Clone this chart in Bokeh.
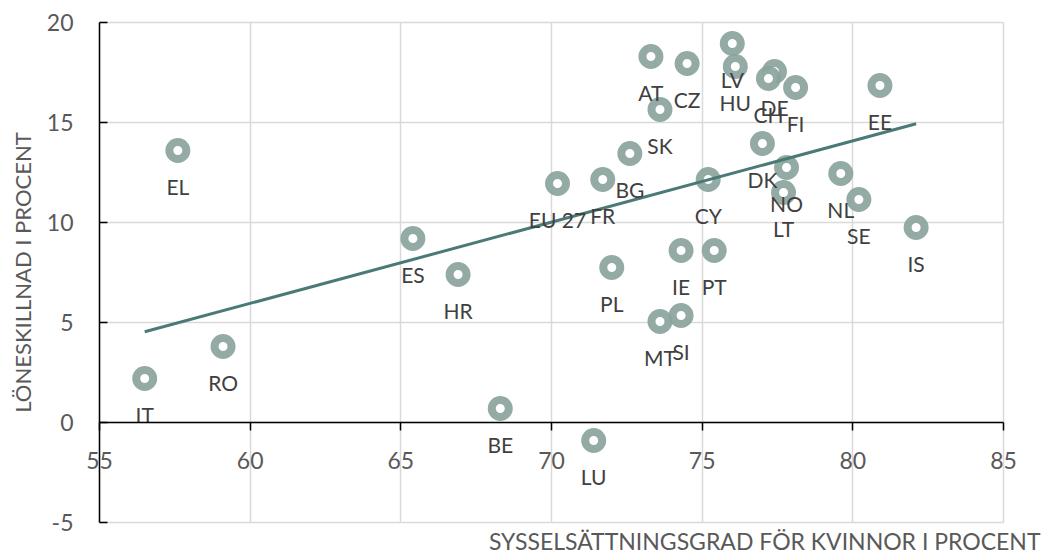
import numpy as np
from bokeh.plotting import figure
from bokeh.models import ColumnDataSource, FixedTicker, Label
from bokeh.core.properties import value
from bokeh.embed import file_html
from bokeh.resources import INLINE

countries = ["IT", "RO", "EL", "ES", "HR", "BE", "LU", "EU 27", "FR", "BG", "PL", "MT", "SI",
             "IE", "PT", "CY", "AT", "CZ", "SK", "LV", "HU", "DE", "CH", "FI", "DK", "NO",
             "LT", "NL", "SE", "EE", "IS"]
employment = [56.5, 59.1, 57.6, 65.4, 66.9, 68.3, 71.4, 70.2, 71.7, 72.6, 72.0, 73.6, 74.3,
              74.3, 75.4, 75.2, 73.3, 74.5, 73.6, 76.0, 76.1, 77.4, 77.2, 78.1, 77.0, 77.8,
              77.7, 79.6, 80.2, 80.9, 82.1]
paygap = [2.2, 3.8, 13.6, 9.2, 7.4, 0.7, -0.9, 11.95, 12.15, 13.45, 7.75, 5.05, 5.35,
          8.6, 8.6, 12.15, 18.3, 17.95, 15.65, 18.95, 17.8, 17.55, 17.2, 16.75, 13.95, 12.75,
          11.5, 12.45, 11.15, 16.85, 9.75]
x_ticks = [55, 60, 65, 70, 75, 80, 85]
y_ticks = [-5, 0, 5, 10, 15, 20]
y_tick_labels = ["-5", "0", "5", "10", "15", "20"]
x_title = "SYSSELSÄTTNINGSGRAD FÖR KVINNOR I PROCENT"
y_title = "LÖNESKILLNAD I PROCENT"

FONT = "Lato"
MARKER = "#88a29b"
TREND = "#4a7a78"
TICK_COLOR = "#595959"

# canvas layout (pixels): the plot frame fills the whole canvas, the axes are
# placed inside it so that no text is clipped
W, H = 1043, 554
PAD_L, PAD_R, PAD_T, PAD_B = 99, 40, 22, 32
xmin, xmax = x_ticks[0], x_ticks[-1]
ymin, ymax = y_ticks[0], y_ticks[-1]
ux = (xmax - xmin) / (W - PAD_L - PAD_R)
uy = (ymax - ymin) / (H - PAD_T - PAD_B)

src = ColumnDataSource(dict(x=employment, y=paygap, label=countries))

p = figure(width=W, height=H,
           x_range=(xmin - PAD_L * ux, xmax + PAD_R * ux),
           y_range=(ymin - PAD_B * uy, ymax + PAD_T * uy),
           output_backend="svg", toolbar_location=None,
           min_border=0)
p.outline_line_color = None
p.background_fill_color = "white"
p.border_fill_color = "white"

# axes
p.xaxis.ticker = FixedTicker(ticks=x_ticks)
p.yaxis.ticker = FixedTicker(ticks=y_ticks)
p.yaxis.major_label_overrides = {t: s for t, s in zip(y_ticks, y_tick_labels)}
p.xaxis.fixed_location = 0
p.yaxis.fixed_location = xmin
p.xaxis.bounds = (xmin, xmax)
p.yaxis.bounds = (ymin, ymax)
for ax in (p.xaxis, p.yaxis):
    ax.axis_line_color = "black"
    ax.axis_line_width = 1.5
    ax.major_tick_line_color = "black"
    ax.major_tick_line_width = 1.5
    ax.minor_tick_line_color = None
    ax.major_label_text_font = FONT
    ax.major_label_text_font_size = "23px"
    ax.major_label_text_color = TICK_COLOR
p.xaxis.major_tick_in = 0
p.xaxis.major_tick_out = 8
p.xaxis.major_label_standoff = 21
p.yaxis.major_tick_in = 8
p.yaxis.major_tick_out = 0
p.yaxis.major_label_standoff = 26
p.yaxis.axis_label = y_title
p.yaxis.axis_label_text_font = FONT
p.yaxis.axis_label_text_font_size = "22px"
p.yaxis.axis_label_text_font_style = "normal"
p.yaxis.axis_label_text_color = TICK_COLOR
p.yaxis.axis_label_standoff = 8

p.xgrid.ticker = FixedTicker(ticks=x_ticks)
p.ygrid.ticker = FixedTicker(ticks=y_ticks)
p.xgrid.bounds = (xmin, xmax)
p.ygrid.bounds = (ymin, ymax)
p.xgrid.cross_bounds = (ymin, ymax)
p.ygrid.cross_bounds = (xmin, xmax)
p.grid.grid_line_color = "#d9d9d9"
p.grid.grid_line_width = 1.5

# points
p.scatter("x", "y", source=src, size=17, fill_color="white", fill_alpha=1.0,
          line_color=MARKER, line_width=8, line_alpha=0.9)

# linear trend line computed from the data
xs = np.array(employment)
ys = np.array(paygap)
k, m = np.polyfit(xs, ys, 1)
tx = np.array([xs.min(), xs.max()])
p.line(tx, k * tx + m, line_color=TREND, line_width=3)

# data labels
p.text("x", "y", text="label", source=src, y_offset=36, text_align="center",
       text_baseline="middle", text_font=value(FONT), text_font_size="21px",
       text_color="#404040")

# x axis title
p.add_layout(Label(x=xmax, y=ymin, text=x_title, x_offset=37, y_offset=-4,
                   text_align="right", text_baseline="top", text_font=FONT,
                   text_font_size="23px", text_color=TICK_COLOR))

open("out.html", "w").write(file_html(p, INLINE))
